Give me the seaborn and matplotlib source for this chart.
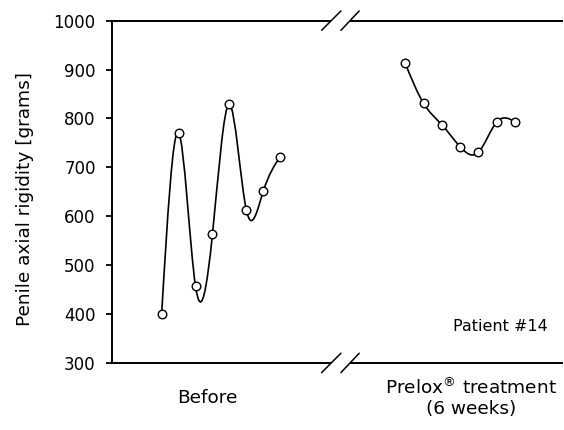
import matplotlib
matplotlib.use("Agg")
import matplotlib.pyplot as plt
import numpy as np
import pandas as pd
import seaborn as sns
from matplotlib.path import Path
from matplotlib.patches import PathPatch


# values (grams)
before_rigidity = [400, 771, 457, 563, 829, 613, 651, 722]
prelox_rigidity = [913, 831, 787, 742, 731, 793, 793]
phase_labels = ["Before", "Prelox$^{®}$ treatment\n(6 weeks)"]
y_ticks = [300, 400, 500, 600, 700, 800, 900, 1000]

# layout of the two measurement series along the (broken) x axis
PRELOX_OFFSET = 14.38
PRELOX_STEP = 1.082
LABEL_POS = [2.68, 18.25]

sns.set_theme(style="ticks")
plt.rcParams["font.family"] = ["DejaVu Sans"]
plt.rcParams["mathtext.default"] = "regular"
plt.rcParams["text.color"] = "black"
plt.rcParams["axes.labelcolor"] = "black"
plt.rcParams["xtick.color"] = "black"
plt.rcParams["ytick.color"] = "black"


def spline_path(x, y):
    # natural cubic spline written as Bezier segments, drawn by matplotlib
    x = np.asarray(x, float)
    y = np.asarray(y, float)
    n = len(x)
    h = np.diff(x)
    A = np.zeros((n, n))
    rhs = np.zeros(n)
    A[0, 0] = A[-1, -1] = 1
    for i in range(1, n - 1):
        A[i, i - 1] = h[i - 1]
        A[i, i] = 2 * (h[i - 1] + h[i])
        A[i, i + 1] = h[i]
        rhs[i] = 6 * ((y[i + 1] - y[i]) / h[i] - (y[i] - y[i - 1]) / h[i - 1])
    M = np.linalg.solve(A, rhs)
    verts = [(x[0], y[0])]
    codes = [Path.MOVETO]
    for i in range(n - 1):
        sl = (y[i + 1] - y[i]) / h[i]
        d0 = sl - h[i] * (2 * M[i] + M[i + 1]) / 6
        d1 = sl + h[i] * (M[i] + 2 * M[i + 1]) / 6
        verts += [
            (x[i] + h[i] / 3, y[i] + d0 * h[i] / 3),
            (x[i + 1] - h[i] / 3, y[i + 1] - d1 * h[i] / 3),
            (x[i + 1], y[i + 1]),
        ]
        codes += [Path.CURVE4] * 3
    return Path(verts, codes)


before_x = np.arange(len(before_rigidity), dtype=float)
prelox_x = PRELOX_OFFSET + PRELOX_STEP * np.arange(len(prelox_rigidity))

df = pd.DataFrame({
    "position": np.concatenate([before_x, prelox_x]),
    "rigidity": before_rigidity + prelox_rigidity,
    "phase": ["Before"] * len(before_rigidity) + ["Prelox"] * len(prelox_rigidity),
})

fig = plt.figure(figsize=(5.64, 4.30), dpi=100)
ax = fig.add_axes([0.198, 0.156, 0.800, 0.796])

for _, grp in df.groupby("phase"):
    patch = PathPatch(spline_path(grp["position"], grp["rigidity"]), facecolor="none",
                      edgecolor="black", linewidth=1.2, zorder=2)
    ax.add_patch(patch)

sns.scatterplot(data=df, x="position", y="rigidity", marker="o", s=38, color="white",
                edgecolor="black", linewidth=1.0, zorder=3, legend=False, ax=ax)

ax.set_xlim(-2.95, 23.69)
ax.set_ylim(300, 1000)
ax.set_yticks(y_ticks)
ax.set_xticks(LABEL_POS)
ax.set_xticklabels(phase_labels, fontsize=13.3, va="center", linespacing=1.1)
ax.tick_params(axis="x", length=0, pad=25)
ax.tick_params(axis="y", length=4.5, width=1.3, direction="out", pad=7, labelsize=12)
ax.set_xlabel("")
ax.set_ylabel("Penile axial rigidity [grams]", fontsize=13.3)
ax.yaxis.set_label_coords(-0.172, 0.478)

for side in ["top", "bottom", "right"]:
    ax.spines[side].set_visible(False)
ax.spines["left"].set_linewidth(1.4)
ax.spines["left"].set_color("black")

# broken top and bottom axis lines with // marks
lk = dict(color="black", linewidth=1.4, transform=ax.transAxes, clip_on=False, solid_capstyle="butt")
for yy in (0, 1):
    ax.plot([0, 0.487], [yy, yy], **lk)
    ax.plot([0.528, 1.0], [yy, yy], **lk)
    ax.plot([0.4653, 0.5081], [yy - 0.0283, yy + 0.0283], color="black", linewidth=1.1,
            transform=ax.transAxes, clip_on=False)
    ax.plot([0.5081, 0.5486], [yy - 0.0283, yy + 0.0283], color="black", linewidth=1.1,
            transform=ax.transAxes, clip_on=False)

ax.text(0.967, 0.093, "Patient #14", transform=ax.transAxes, ha="right", va="baseline", fontsize=11.5)

fig.savefig("out.png", dpi=100)
